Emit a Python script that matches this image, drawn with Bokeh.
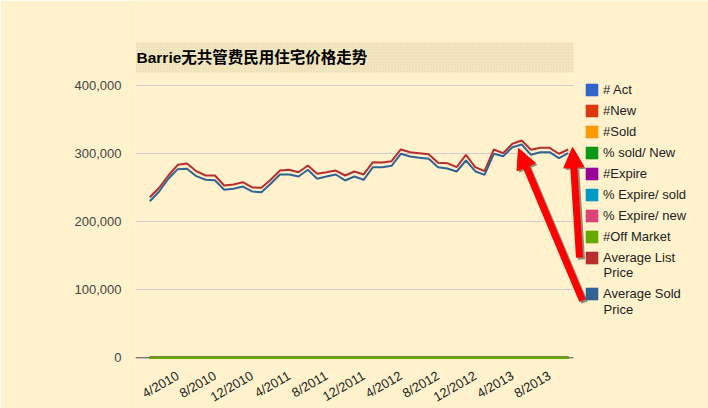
import math
from bokeh.plotting import figure
from bokeh.models import (Range1d, FixedTicker, NumeralTickFormatter, Span, Label, LabelSet,
                          ColumnDataSource, Legend, LegendItem, BoxAnnotation, Arrow, NormalHead)
from bokeh.core.properties import value
from bokeh.embed import file_html
from bokeh.resources import INLINE

# ---------------- data ----------------
months = [
    "1/2010", "2/2010", "3/2010", "4/2010", "5/2010", "6/2010", "7/2010", "8/2010", "9/2010", "10/2010", "11/2010", "12/2010",
    "1/2011", "2/2011", "3/2011", "4/2011", "5/2011", "6/2011", "7/2011", "8/2011", "9/2011", "10/2011", "11/2011", "12/2011",
    "1/2012", "2/2012", "3/2012", "4/2012", "5/2012", "6/2012", "7/2012", "8/2012", "9/2012", "10/2012", "11/2012", "12/2012",
    "1/2013", "2/2013", "3/2013", "4/2013", "5/2013", "6/2013", "7/2013", "8/2013", "9/2013", "10/2013",
]

avg_list_price = [
    235900, 249700, 267800, 283500, 285400, 274100, 267800, 267800, 253100, 254600,
    258000, 250200, 249700, 261500, 275100, 276200, 272600, 282500, 270300, 272600,
    275100, 267800, 273700, 269300, 287300, 286900, 288800, 306000, 302000, 300600,
    299100, 286500, 285900, 280000, 298200, 280000, 274100, 306000, 300600, 314400,
    319200, 305600, 308500, 308500, 299700, 306000,
]

avg_sold_price = [
    230000, 244300, 263000, 277100, 277600, 266800, 261500, 260900, 246800, 248300,
    251600, 244300, 243300, 255600, 269300, 269300, 266300, 276200, 263000, 266300,
    269300, 260500, 266300, 261500, 280000, 280000, 282000, 299700, 295700, 293800,
    292300, 280000, 278100, 273700, 289800, 274100, 268800, 299700, 296200, 309400,
    313300, 298200, 302000, 302000, 293200, 300600,
]

# count / percentage series: all read as 0 on this price scale
near_zero = [
    0, 0, 0, 0, 0, 0, 0, 0, 0, 0, 0, 0, 0, 0, 0, 0, 0, 0, 0, 0, 0, 0, 0,
    0, 0, 0, 0, 0, 0, 0, 0, 0, 0, 0, 0, 0, 0, 0, 0, 0, 0, 0, 0, 0, 0, 0,
]

series_names = ["# Act", "#New", "#Sold", "% sold/ New", "#Expire", "% Expire/ sold",
                "% Expire/ new", "#Off Market", "Average List", "Average Sold"]
series_colors = ["#3366cc", "#dc3912", "#ff9900", "#109618", "#990099", "#0099c6",
                 "#dd4477", "#66aa00", "#b82e2e", "#316395"]

y_ticks = [0, 100000, 200000, 300000, 400000]
x_tick_labels = months[3::4]
title_text = "Barrie无共管费民用住宅价格走势"

BG = "#fff2cc"
FONT = "'Liberation Sans', Arial, 'Noto Sans CJK SC'"

# plot-area extent (in index units) of the original chart area
X_LEFT, X_RIGHT = -1.54, 45.57

# ---------------- figure ----------------
p = figure(width=708, height=408, output_backend="svg", toolbar_location=None,
           x_range=Range1d(X_LEFT, 60.09), y_range=Range1d(-74477, 524863),
           min_border_left=135, min_border_right=0, min_border_top=0, min_border_bottom=0,
           background_fill_color=BG, border_fill_color=BG, outline_line_color=None)
p.title.visible = False
p.xaxis.visible = False
p.xgrid.visible = False

p.yaxis.ticker = FixedTicker(ticks=y_ticks)
p.yaxis.formatter = NumeralTickFormatter(format="0,0")
p.yaxis.axis_line_color = None
p.yaxis.major_tick_line_color = None
p.yaxis.minor_tick_line_color = None
p.yaxis.major_tick_out = 0
p.yaxis.major_tick_in = 0
p.yaxis.major_label_standoff = 14
p.yaxis.major_label_text_font = FONT
p.yaxis.major_label_text_font_size = "13px"
p.yaxis.major_label_text_color = "#444444"
p.ygrid.grid_line_color = "#cccccc"
p.ygrid.grid_line_width = 1

# baseline at zero
p.add_layout(Span(location=0, dimension="width", line_color="#555555", line_width=1, level="underlay"))
# mask the grid to the right of the chart area
p.add_layout(BoxAnnotation(left=X_RIGHT, fill_color=BG, fill_alpha=1, line_color=None, level="underlay"))

# title box
p.add_layout(BoxAnnotation(left=0, right=438, top=366, bottom=336,
                           left_units="screen", right_units="screen",
                           top_units="screen", bottom_units="screen",
                           fill_color="#f6eac4", fill_alpha=1, line_color=None,
                           hatch_pattern="x", hatch_scale=3, hatch_color="#e6d9b2",
                           hatch_weight=0.6, level="underlay"))
p.add_layout(Label(x=1, y=351, x_units="screen", y_units="screen", text=title_text,
                   text_font=FONT, text_font_size="15.5px", text_font_style="bold",
                   text_color="#000000", text_baseline="middle", text_align="left"))

src = ColumnDataSource(dict(x=list(range(len(months))), lst=avg_list_price,
                            sold=avg_sold_price, zero=near_zero))

# zero-level series
for c in series_colors[:8]:
    p.line("x", "zero", source=src, line_color=c, line_width=2.5)

p.line("x", "lst", source=src, line_color=series_colors[8], line_width=2)
p.line("x", "sold", source=src, line_color=series_colors[9], line_width=2)

# x tick labels (slanted)
xsrc = ColumnDataSource(dict(x=[months.index(m) for m in x_tick_labels], text=x_tick_labels))
p.add_layout(LabelSet(x="x", y=34, y_units="screen", text="text", source=xsrc,
                      angle=math.pi / 6, text_align="right", text_baseline="middle",
                      text_font=value("Liberation Sans"), text_font_size="13px",
                      text_color="#222222"))

# legend (square swatches)
nan = float("nan")
swatches = []
for c in series_colors:
    swatches.append(p.quad(left=[nan], right=[nan], top=[nan], bottom=[nan],
                           fill_color=c, line_color=c, line_alpha=0.6))

leg_kw = dict(padding=0, margin=0, border_line_color=None, background_fill_alpha=0,
              label_text_font=FONT, label_text_font_size="13px", label_text_color="#222222",
              glyph_width=15, glyph_height=15, label_standoff=4, spacing=1, label_height=20)
legend1 = Legend(items=[LegendItem(label=n, renderers=[r]) for n, r in zip(series_names[:9], swatches[:9])],
                 location=(449, 141), **leg_kw)
legend2 = Legend(items=[LegendItem(label=series_names[9], renderers=[swatches[9]])],
                 location=(449, 105), **leg_kw)
p.add_layout(legend1)
p.add_layout(legend2)
for yy in (136, 99):
    p.add_layout(Label(x=468, y=yy, x_units="screen", y_units="screen", text="Price",
                       text_font=FONT, text_font_size="13px", text_color="#222222",
                       text_baseline="middle"))

# red annotation arrows (with shadow)
arrows = [((447, 108), (383, 260)), ((444, 151), (437, 261))]
for (x0, y0), (x1, y1) in arrows:
    p.add_layout(Arrow(x_start=x0 + 2, y_start=y0 - 2, x_end=x1 + 2, y_end=y1 - 2,
                       start_units="screen", end_units="screen",
                       line_color="#333333", line_alpha=0.55, line_width=7,
                       end=NormalHead(size=20, fill_color="#333333", fill_alpha=0.55, line_color=None)))
for (x0, y0), (x1, y1) in arrows:
    p.add_layout(Arrow(x_start=x0, y_start=y0, x_end=x1, y_end=y1,
                       start_units="screen", end_units="screen",
                       line_color="#ff0000", line_width=7,
                       end=NormalHead(size=20, fill_color="#ff0000", line_color="#ff0000")))

open("out.html", "w").write(file_html(p, INLINE))
